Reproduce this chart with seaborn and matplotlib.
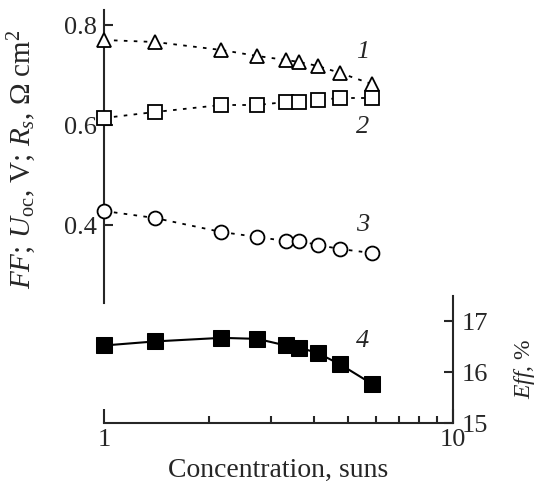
import pandas as pd
import matplotlib
matplotlib.use('Agg')
import matplotlib.pyplot as plt
from matplotlib.ticker import NullFormatter
import seaborn as sns

# concentration (suns) and measured parameters
conc = [1.0, 1.4, 2.17, 2.75, 3.32, 3.63, 4.1, 4.75, 5.85]
ff = [0.770, 0.766, 0.750, 0.738, 0.730, 0.726, 0.718, 0.704, 0.682]
uoc = [0.614, 0.626, 0.640, 0.640, 0.646, 0.646, 0.650, 0.654, 0.654]
rs = [0.428, 0.414, 0.386, 0.376, 0.368, 0.368, 0.360, 0.352, 0.344]
eff = [16.52, 16.60, 16.67, 16.65, 16.52, 16.48, 16.37, 16.15, 15.77]

sns.set_style('ticks')
plt.rcParams['font.family'] = ['Liberation Serif', 'DejaVu Serif']
plt.rcParams['mathtext.fontset'] = 'custom'
plt.rcParams['mathtext.rm'] = 'Liberation Serif'
plt.rcParams['mathtext.it'] = 'Liberation Serif:italic'

df = pd.DataFrame({'conc': conc, 'ff': ff, 'uoc': uoc, 'rs': rs, 'eff': eff})

fig = plt.figure(figsize=(5.38, 4.83), dpi=100)
ax = fig.add_axes([104 / 538, 1 - 423 / 483, (453 - 104) / 538, (423 - 10) / 483])
ax2 = ax.twinx()

dots = (0, (2, 3.5))
mk = dict(color='black', linestyle=dots, linewidth=1.3, markersize=10,
          markerfacecolor='white', markeredgecolor='black', markeredgewidth=1.3,
          clip_on=False, zorder=5)
sns.lineplot(data=df, x='conc', y='ff', ax=ax, marker='^', **mk)
sns.lineplot(data=df, x='conc', y='uoc', ax=ax, marker='s', **mk)
sns.lineplot(data=df, x='conc', y='rs', ax=ax, marker='o', **mk)
sns.lineplot(data=df, x='conc', y='eff', ax=ax2, marker='s', color='black',
             linewidth=1.5, markersize=11, markerfacecolor='black',
             markeredgecolor='black', clip_on=False, zorder=5)

ax.set_xscale('log')
ax.set_xlim(1, 10)
ax.set_ylim(0.004, 0.83)
ax2.set_ylim(15, 23.1)

ax.set_yticks([0.4, 0.6, 0.8])
ax.set_yticklabels(['0.4', '0.6', '0.8'])
ax.set_xticks([1, 10])
ax.set_xticklabels(['1', '10'])
ax.xaxis.set_minor_formatter(NullFormatter())
ax2.set_yticks([15, 16, 17])

for s in ['top', 'right']:
    ax.spines[s].set_visible(False)
for s in ['top', 'left', 'bottom']:
    ax2.spines[s].set_visible(False)
ax.spines['left'].set_bounds(0.244, 0.83)
ax2.spines['right'].set_bounds(15, 17.5)
for sp in [ax.spines['left'], ax.spines['bottom'], ax2.spines['right']]:
    sp.set_linewidth(1.5)

ax.tick_params(axis='y', direction='in', length=6.5, width=1.5, pad=5, labelsize=19)
ax.tick_params(axis='x', which='major', direction='in', length=10, width=1.5, pad=4, labelsize=19)
ax.tick_params(axis='x', which='minor', direction='in', length=5, width=1.5)
ax2.tick_params(axis='y', direction='in', length=6.5, width=1.5, pad=6, labelsize=19)

ax.set_xlabel('Concentration, suns', fontsize=20)
ax.xaxis.set_label_coords(0.5, -0.085)
ax.set_ylabel(r'$FF$; $U_{\rm oc}$, V; $R_s$, $\Omega$ cm$^2$', fontsize=21)
ax.yaxis.set_label_coords(-0.19, 0.64)
ax2.set_ylabel(r'$Eff$, %', fontsize=17)
ax2.yaxis.set_label_coords(1.17, 0.131)

# curve numbers
for txt, xx, yy, a in [('1', 5.5, 0.746, ax), ('2', 5.5, 0.596, ax),
                       ('3', 5.5, 0.40, ax), ('4', 5.5, 16.6, ax2)]:
    a.text(xx, yy, txt, fontsize=19, style='italic', ha='center', va='center')

fig.savefig('out.png', dpi=100)
